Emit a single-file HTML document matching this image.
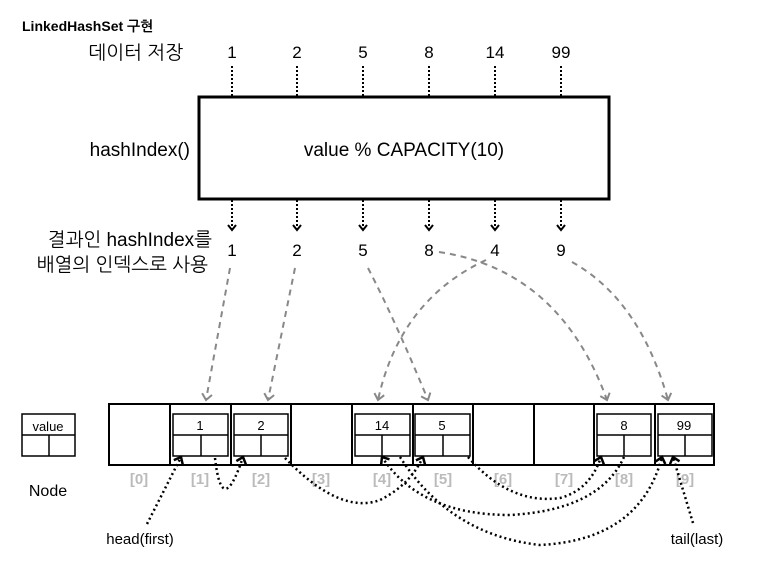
<!DOCTYPE html>
<html><head><meta charset="utf-8"><style>
body{margin:0;background:#fff;}
svg text{font-family:"Liberation Sans","NanumGothic","Noto Sans CJK KR",sans-serif;}
</style></head><body>
<svg width="776" height="557" viewBox="0 0 776 557" xmlns="http://www.w3.org/2000/svg">
<defs>
<marker id="ab" markerWidth="12" markerHeight="12" refX="9" refY="6" orient="auto" markerUnits="userSpaceOnUse"><path d="M4,2 L9,6 L4,10" fill="none" stroke="#000" stroke-width="2"/></marker>
<marker id="ag" markerWidth="14" markerHeight="14" refX="10" refY="7" orient="auto" markerUnits="userSpaceOnUse"><path d="M4,2 L10,7 L4,12" fill="none" stroke="#888" stroke-width="2"/></marker>
<marker id="ah" markerWidth="12" markerHeight="12" refX="9" refY="6" orient="auto" markerUnits="userSpaceOnUse"><path d="M3,1 L9,6 L3,11" fill="none" stroke="#000" stroke-width="2.5"/></marker>
</defs>
<text x="22" y="31" font-size="14" font-weight="bold">LinkedHashSet 구현</text>
<text x="183" y="59" font-size="19" text-anchor="end">데이터 저장</text>
<g font-size="17" text-anchor="middle">
<text x="232" y="58">1</text><text x="297" y="58">2</text><text x="363" y="58">5</text><text x="429" y="58">8</text><text x="495" y="58">14</text><text x="561" y="58">99</text>
<text x="232" y="256">1</text><text x="297" y="256">2</text><text x="363" y="256">5</text><text x="429" y="256">8</text><text x="495" y="256">4</text><text x="561" y="256">9</text>
</g>
<g stroke="#000" stroke-width="2" stroke-dasharray="2,2">
<line x1="232" y1="66" x2="232" y2="96"/><line x1="297" y1="66" x2="297" y2="96"/><line x1="363" y1="66" x2="363" y2="96"/><line x1="429" y1="66" x2="429" y2="96"/><line x1="495" y1="66" x2="495" y2="96"/><line x1="561" y1="66" x2="561" y2="96"/>
<line x1="232" y1="200" x2="232" y2="230" marker-end="url(#ab)"/><line x1="297" y1="200" x2="297" y2="230" marker-end="url(#ab)"/><line x1="363" y1="200" x2="363" y2="230" marker-end="url(#ab)"/><line x1="429" y1="200" x2="429" y2="230" marker-end="url(#ab)"/><line x1="495" y1="200" x2="495" y2="230" marker-end="url(#ab)"/><line x1="561" y1="200" x2="561" y2="230" marker-end="url(#ab)"/>
</g>
<rect x="199" y="97" width="410" height="102" fill="none" stroke="#000" stroke-width="3"/>
<text x="190" y="156" font-size="19" text-anchor="end">hashIndex()</text>
<text x="404" y="156" font-size="19" text-anchor="middle">value % CAPACITY(10)</text>
<text x="212" y="246" font-size="19" text-anchor="end">결과인 hashIndex를</text>
<text x="208" y="271" font-size="19" text-anchor="end">배열의 인덱스로 사용</text>
<g stroke="#888" stroke-width="2" stroke-dasharray="6,5" fill="none">
<path d="M230,268 L206,400" marker-end="url(#ag)"/>
<path d="M295,268 L268,400" marker-end="url(#ag)"/>
<path d="M368,268 Q395,320 428,400" marker-end="url(#ag)"/>
<path d="M439,252 Q560,270 607,400" marker-end="url(#ag)"/>
<path d="M486,260 Q400,300 378,400" marker-end="url(#ag)"/>
<path d="M572,262 Q640,300 668,400" marker-end="url(#ag)"/>
</g>
<rect x="109" y="404" width="605" height="61" fill="none" stroke="#000" stroke-width="2"/>
<g stroke="#000" stroke-width="2">
<line x1="170" y1="404" x2="170" y2="465"/><line x1="231" y1="404" x2="231" y2="465"/><line x1="291" y1="404" x2="291" y2="465"/><line x1="352" y1="404" x2="352" y2="465"/><line x1="413" y1="404" x2="413" y2="465"/><line x1="473" y1="404" x2="473" y2="465"/><line x1="534" y1="404" x2="534" y2="465"/><line x1="594" y1="404" x2="594" y2="465"/><line x1="655" y1="404" x2="655" y2="465"/>
</g>
<g fill="none" stroke="#000" stroke-width="1.5">
<rect x="22" y="414" width="53" height="42"/><line x1="22" y1="435" x2="75" y2="435"/><line x1="49" y1="435" x2="49" y2="456"/>
<rect x="173" y="414" width="55" height="42"/><line x1="173" y1="435" x2="228" y2="435"/><line x1="201" y1="435" x2="201" y2="456"/>
<rect x="234" y="414" width="54" height="42"/><line x1="234" y1="435" x2="288" y2="435"/><line x1="261" y1="435" x2="261" y2="456"/>
<rect x="355" y="414" width="55" height="42"/><line x1="355" y1="435" x2="410" y2="435"/><line x1="382" y1="435" x2="382" y2="456"/>
<rect x="415" y="414" width="55" height="42"/><line x1="415" y1="435" x2="470" y2="435"/><line x1="443" y1="435" x2="443" y2="456"/>
<rect x="597" y="414" width="54" height="42"/><line x1="597" y1="435" x2="651" y2="435"/><line x1="624" y1="435" x2="624" y2="456"/>
<rect x="658" y="414" width="54" height="42"/><line x1="658" y1="435" x2="712" y2="435"/><line x1="685" y1="435" x2="685" y2="456"/>
</g>
<g font-size="13" text-anchor="middle">
<text x="48" y="431">value</text><text x="200" y="430">1</text><text x="261" y="430">2</text><text x="382" y="430">14</text><text x="442" y="430">5</text><text x="624" y="430">8</text><text x="684" y="430">99</text>
</g>
<g font-size="15" font-weight="bold" fill="#bbb" text-anchor="middle">
<text x="139" y="484">[0]</text><text x="200" y="484">[1]</text><text x="261" y="484">[2]</text><text x="321" y="484">[3]</text><text x="382" y="484">[4]</text><text x="443" y="484">[5]</text><text x="503" y="484">[6]</text><text x="564" y="484">[7]</text><text x="624" y="484">[8]</text><text x="685" y="484">[9]</text>
</g>
<text x="48" y="496" font-size="16" text-anchor="middle">Node</text>
<text x="140" y="544" font-size="15" text-anchor="middle">head(first)</text>
<text x="697" y="544" font-size="15" text-anchor="middle">tail(last)</text>
<g stroke="#000" stroke-width="2.5" stroke-dasharray="2,3" fill="none">
<path d="M147,524 L181,457" marker-end="url(#ah)"/>
<path d="M215,458 Q222,520 243,457" marker-end="url(#ah)"/>
<path d="M285,458 Q340,515 380,500 Q410,485 423,457" marker-end="url(#ah)"/>
<path d="M468,457 Q510,505 560,498 Q590,490 601,457" marker-end="url(#ah)"/>
<path d="M624,457 Q600,510 510,515 Q420,515 382,457" marker-end="url(#ah)"/>
<path d="M400,457 Q450,535 540,545 Q640,540 662,457" marker-end="url(#ah)"/>
<path d="M693,523 L673,457" marker-end="url(#ah)"/>
</g>
</svg>
</body></html>
